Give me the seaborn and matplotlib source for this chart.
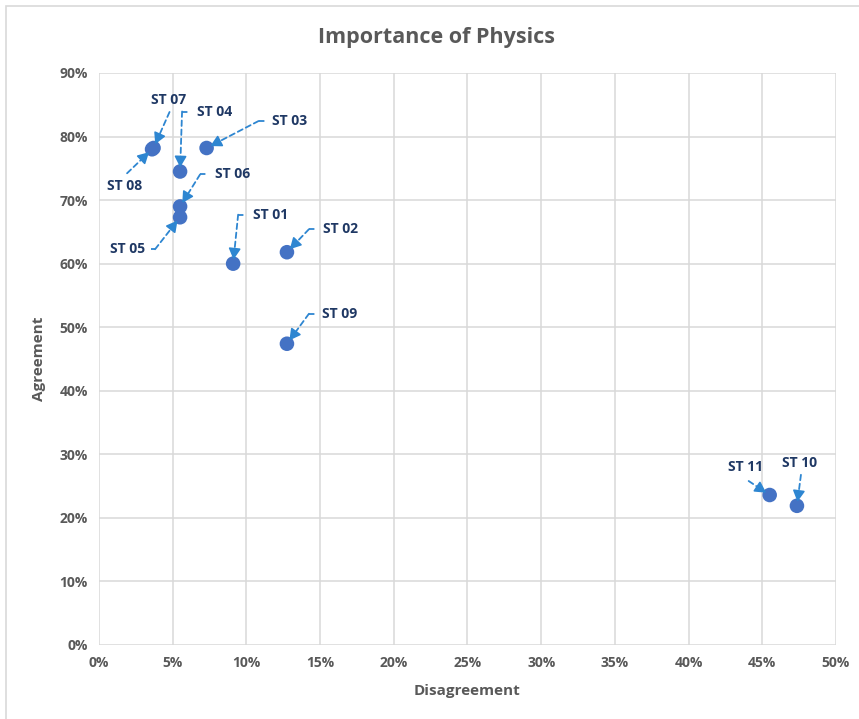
import numpy as np
import pandas as pd
import matplotlib
matplotlib.use("Agg")
import matplotlib.pyplot as plt
import seaborn as sns
from matplotlib.patches import Rectangle
from matplotlib.ticker import PercentFormatter, MultipleLocator

labels = ["ST 01", "ST 02", "ST 03", "ST 04", "ST 05", "ST 06",
          "ST 07", "ST 08", "ST 09", "ST 10", "ST 11"]
disagreement = [9.1, 12.75, 7.3, 5.5, 5.5, 5.5, 3.7, 3.6, 12.75, 47.35, 45.5]
agreement = [60.0, 61.8, 78.2, 74.5, 67.3, 69.0, 78.2, 78.0, 47.4, 21.9, 23.6]

# label layout (pixel offsets from point: text position, leader start, alignment)
label_layout = {
    "ST 01": dict(text=(20, 49), start=(5, 49), ha="left"),
    "ST 02": dict(text=(36, 23), start=(22, 23), ha="left"),
    "ST 03": dict(text=(65, 27), start=(52, 27), ha="left"),
    "ST 04": dict(text=(17, 60), start=(2, 60), ha="left"),
    "ST 05": dict(text=(-35, -32), start=(-25, -32), ha="right"),
    "ST 06": dict(text=(35, 32), start=(20, 32), ha="left"),
    "ST 07": dict(text=(15, 48), start=(16, 36), ha="center"),
    "ST 08": dict(text=(-27, -37), start=(-25, -24), ha="center"),
    "ST 09": dict(text=(35, 30), start=(22, 30), ha="left"),
    "ST 10": dict(text=(3, 43), start=(4, 31), ha="center"),
    "ST 11": dict(text=(-24, 28), start=(-21, 14), ha="center"),
}

df = pd.DataFrame({"label": labels, "Disagreement": disagreement, "Agreement": agreement})

sns.set_theme(style="white")
plt.rcParams["font.family"] = ["Open Sans", "DejaVu Sans"]

fig = plt.figure(figsize=(8.59, 7.19), dpi=100)
ax = fig.add_axes([99 / 859, 1 - 645 / 719, (836 - 99) / 859, (645 - 73) / 719])

point_color = "#4472C4"
leader_color = "#2E86D1"
label_color = "#1F3864"
text_gray = "#595959"

sns.scatterplot(data=df, x="Disagreement", y="Agreement", ax=ax, s=110,
                color=point_color, edgecolor="none", zorder=3, legend=False)

ax.set_xlim(0, 50)
ax.set_ylim(0, 90)
ax.xaxis.set_major_locator(MultipleLocator(5))
ax.yaxis.set_major_locator(MultipleLocator(10))
ax.xaxis.set_major_formatter(PercentFormatter(decimals=0))
ax.yaxis.set_major_formatter(PercentFormatter(decimals=0))
ax.grid(True, color="#D9D9D9", linewidth=1.1)
ax.set_axisbelow(True)
for s in ax.spines.values():
    s.set_visible(False)
ax.tick_params(axis="both", length=0, labelsize=10, labelcolor=text_gray, pad=8)
for t in ax.get_xticklabels() + ax.get_yticklabels():
    t.set_fontweight("bold")

ax.set_xlabel("Disagreement", fontsize=11, fontweight="bold", color=text_gray, labelpad=10)
ax.set_ylabel("Agreement", fontsize=11, fontweight="bold", color=text_gray, labelpad=10)
fig.text(437 / 859, 1 - 38 / 719, "Importance of Physics", ha="center", va="center",
         fontsize=15.5, fontweight="bold", color=text_gray)

for lab, x, y in zip(labels, disagreement, agreement):
    lay = label_layout[lab]
    tx, ty = lay["text"]
    sx, sy = lay["start"]
    ax.annotate(lab, xy=(x, y), xytext=(tx, ty), textcoords="offset pixels",
                ha=lay["ha"], va="center", fontsize=10, fontweight="bold",
                color=label_color, zorder=5)
    # dashed leader line
    ax.annotate("", xy=(x, y), xytext=(sx, sy), textcoords="offset pixels",
                arrowprops=dict(arrowstyle="-", linestyle=(0, (3, 2)), color=leader_color,
                                lw=1.3, shrinkA=0, shrinkB=8), zorder=4)
    # short elbow dash toward label
    if lay["ha"] in ("left", "right"):
        ex = tx - 6 if lay["ha"] == "left" else tx + 6
        p0 = ax.transData.transform((x, y))
        a = ax.transData.inverted().transform((p0[0] + sx, p0[1] + sy))
        b = ax.transData.inverted().transform((p0[0] + ex, p0[1] + sy))
        ax.plot([a[0], b[0]], [a[1], b[1]], color=leader_color, lw=1.3,
                linestyle=(0, (3, 2)), zorder=4, clip_on=False)
    # solid arrow head
    L = np.hypot(sx, sy)
    k = 10.0 / L
    ax.annotate("", xy=(x, y), xytext=(sx * k, sy * k), textcoords="offset pixels",
                arrowprops=dict(arrowstyle="-|>,head_length=0.55,head_width=0.3",
                                color=leader_color, lw=1.2, shrinkA=0, shrinkB=3), zorder=4)

fig.patches.append(Rectangle((6 / 859, -0.05), 1.1, 1 - 6 / 719 + 0.05, transform=fig.transFigure,
                             fill=False, edgecolor="#D9D9D9", linewidth=1.2, zorder=0))

fig.savefig("out.png", dpi=100)
